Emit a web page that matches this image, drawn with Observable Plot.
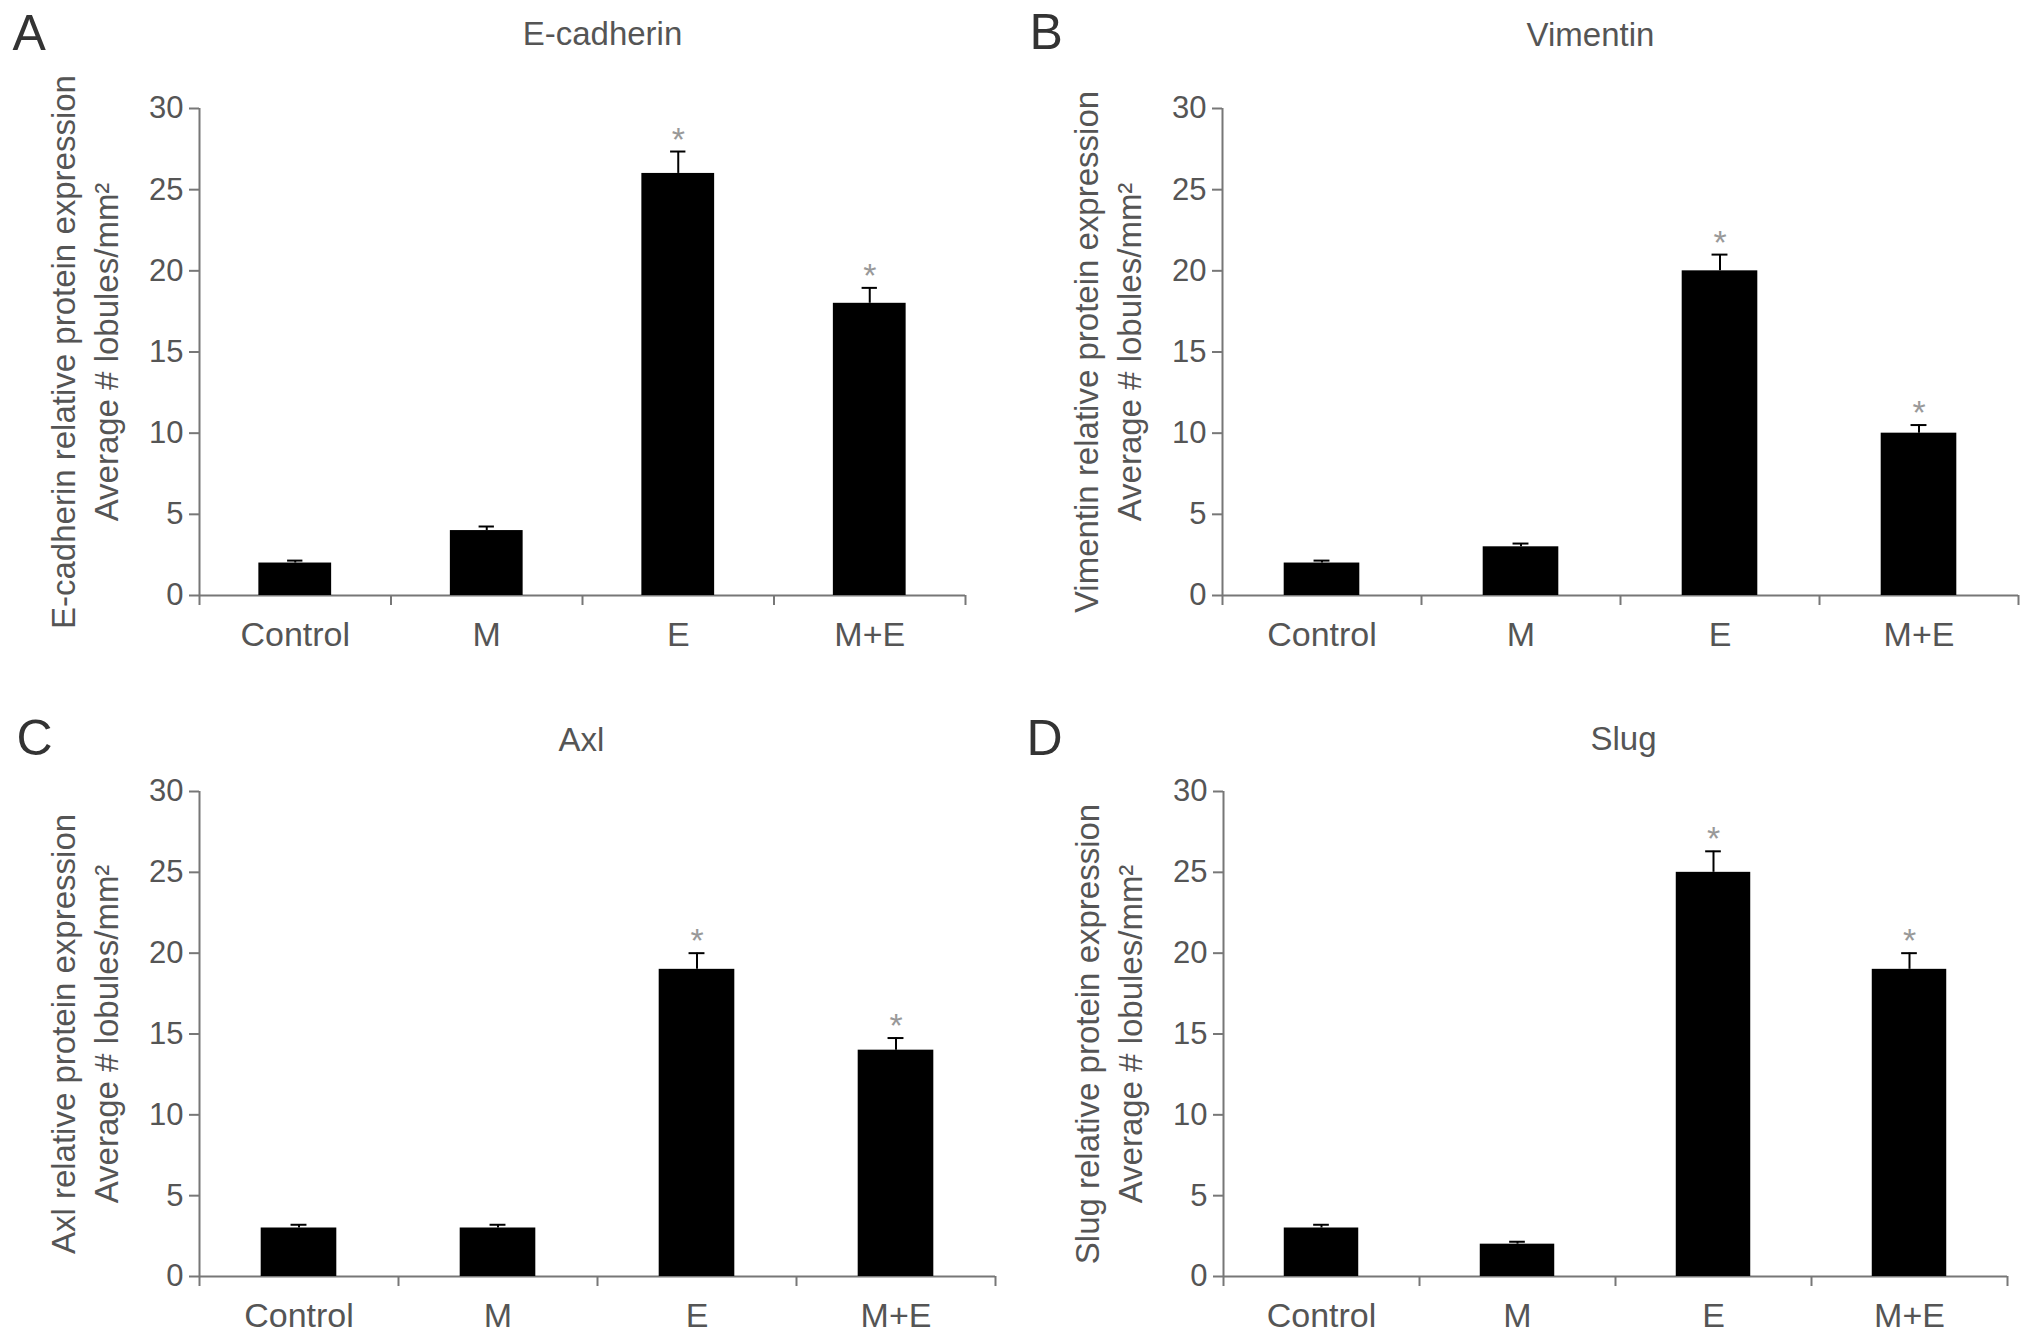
<!DOCTYPE html>
<html>
<head>
<meta charset="utf-8">
<script src="https://cdn.jsdelivr.net/npm/d3@7"></script>
<script src="https://cdn.jsdelivr.net/npm/@observablehq/plot@0.6"></script>
<style>
  body { margin: 0; background: white; }
  #fig { position: relative; width: 2032px; height: 1341px; }
  .panel { position: absolute; }
</style>
</head>
<body>
<div id="fig"></div>
<script>
// groups on the x axis
const categories = ["Control", "M", "E", "M+E"]
const yTicks = [0, 5, 10, 15, 20, 25, 30]

const letters = ["A", "B", "C", "D"]
const titles = ["E-cadherin", "Vimentin", "Axl", "Slug"]
const yLabels = [
  "E-cadherin relative protein expression\nAverage # lobules/mm²",
  "Vimentin relative protein expression\nAverage # lobules/mm²",
  "Axl relative protein expression\nAverage # lobules/mm²",
  "Slug relative protein expression\nAverage # lobules/mm²"
]

// means and error bars
const ecadherin = [2, 4, 26, 18]
const ecadherinErr = [0.15, 0.25, 1.35, 0.95]
const vimentin = [2, 3, 20, 10]
const vimentinErr = [0.15, 0.2, 1.0, 0.5]
const axl = [3, 3, 19, 14]
const axlErr = [0.2, 0.2, 1.0, 0.75]
const slug = [3, 2, 25, 19]
const slugErr = [0.2, 0.15, 1.3, 1.0]
// * above E and M+E
const significant = [false, false, true, true]

const values = [ecadherin, vimentin, axl, slug]
const errors = [ecadherinErr, vimentinErr, axlErr, slugErr]

// where each panel sits on the page
const layout = [
  {left: 0,    top: 0,   w: 1016, h: 670, ml: 199, mr: 51, mt: 108, mb: 75, titleDx: 20,  titleDy: -64, letterX: 12, letterY: 49},
  {left: 1016, top: 0,   w: 1016, h: 670, ml: 206, mr: 14, mt: 108, mb: 75, titleDx: -30, titleDy: -63, letterX: 13, letterY: 48},
  {left: 0,    top: 670, w: 1016, h: 671, ml: 199, mr: 21, mt: 121, mb: 65, titleDx: -16, titleDy: -41, letterX: 16, letterY: 84},
  {left: 1016, top: 670, w: 1016, h: 671, ml: 207, mr: 25, mt: 121, mb: 65, titleDx: 8,   titleDy: -42, letterX: 10, letterY: 84}
]

const axisGray = "#777"
const textGray = "#555"

function panel(k) {
  const L = layout[k]
  const rows = categories.map((c, i) => ({i: i, cat: c, value: values[k][i], err: errors[k][i], sig: significant[i]}))

  const chart = Plot.plot({
    width: L.w,
    height: L.h,
    marginLeft: L.ml,
    marginRight: L.mr,
    marginTop: L.mt,
    marginBottom: L.mb,
    style: {fontFamily: "'Liberation Sans', Arial, sans-serif", fontSize: "31px", background: "white", color: textGray},
    x: {domain: [-0.5, 3.5]},
    y: {domain: [0, 30]},
    marks: [
      // axis lines
      Plot.ruleY([0], {stroke: axisGray, strokeWidth: 2}),
      Plot.ruleX([-0.5], {y1: 0, y2: 30, stroke: axisGray, strokeWidth: 2}),
      Plot.axisY({ticks: yTicks, tickSize: 10, tickPadding: 6, label: null, stroke: axisGray, strokeWidth: 2, fill: textGray, fontSize: 31}),
      // ticks between groups, labels under the bars
      Plot.axisX({ticks: [-0.5, 0.5, 1.5, 2.5, 3.5], tickSize: 10, tickFormat: () => "", label: null, stroke: axisGray, strokeWidth: 2}),
      Plot.axisX({ticks: [0, 1, 2, 3], tickSize: 0, tickPadding: 26, tickFormat: i => categories[i], label: null, fill: textGray, fontSize: 34}),
      // bars
      Plot.rect(rows, {x1: d => d.i - 0.19, x2: d => d.i + 0.19, y1: 0, y2: "value", fill: "black"}),
      // error bars (upper half only)
      Plot.ruleX(rows, {x: "i", y1: "value", y2: d => d.value + d.err, stroke: "black", strokeWidth: 2}),
      Plot.ruleY(rows, {y: d => d.value + d.err, x1: d => d.i - 0.04, x2: d => d.i + 0.04, stroke: "black", strokeWidth: 2}),
      Plot.text(rows.filter(d => d.sig), {x: "i", y: d => d.value + d.err, text: () => "*", lineAnchor: "bottom", dy: -1, fontSize: 34, fill: "#999"}),
      // titles and labels
      Plot.text([titles[k]], {text: d => d, frameAnchor: "top", lineAnchor: "bottom", dx: L.titleDx, dy: L.titleDy, fontSize: 33, fill: textGray}),
      Plot.text([letters[k]], {text: d => d, frameAnchor: "top-left", textAnchor: "start", lineAnchor: "bottom", dx: L.letterX - L.ml, dy: L.letterY - L.mt, fontSize: 50, fill: "#333"}),
      Plot.text([yLabels[k]], {text: d => d, frameAnchor: "left", textAnchor: "middle", rotate: -90, lineAnchor: "bottom", lineHeight: 1.3, dx: -82, fontSize: 33, fill: textGray})
    ]
  })

  d3.select("#fig").append("div")
    .attr("class", "panel")
    .style("left", L.left + "px")
    .style("top", L.top + "px")
    .append(() => chart)
}

for (let k = 0; k < 4; k++) panel(k)
</script>
</body>
</html>
